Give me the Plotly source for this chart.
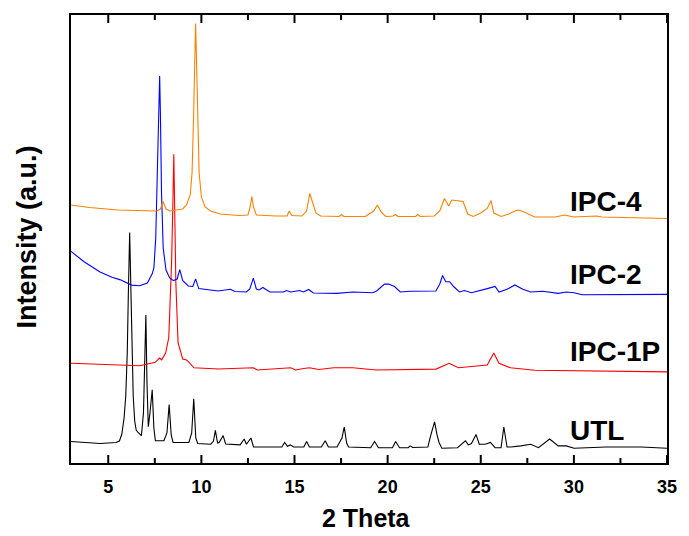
import plotly.graph_objects as go

# ---- data (2-theta, stacked intensity in a.u.) ----
ipc4_theta = [3.0, 4.0, 5.5, 7.0, 7.6, 7.8, 7.95, 8.1, 8.3, 9.0, 9.2, 9.4, 9.5, 9.58, 9.65, 9.69, 9.73, 9.8, 9.88,
              10.0, 10.2, 10.5, 11.0, 12.0, 12.5, 12.62, 12.71, 12.8, 12.95, 14.0, 14.6, 14.72, 14.85, 15.4, 15.65,
              15.82, 15.98, 16.15, 16.4, 17.4, 17.52, 17.65, 18.8, 19.25, 19.45, 19.65, 19.9, 20.3, 20.42, 20.55,
              21.5, 21.62, 21.75, 22.5, 22.8, 23.05, 23.28, 23.45, 23.65, 23.85, 24.05, 24.3, 24.6, 25.0, 25.2,
              25.35, 25.55, 25.7, 26.1, 26.5, 26.95, 27.2, 27.5, 27.9, 29.0, 29.5, 30.0, 31.2, 31.5, 33.0, 35.0]
ipc4_intensity = [258, 255.5, 253, 252, 252, 254, 261.5, 254, 252, 254, 258, 268, 290, 345, 410, 439.5, 410, 345, 290,
                  266, 256, 252, 249, 247.5, 248, 256, 266.5, 256, 248, 247, 247, 252, 247.5, 247, 252,
                  269.5, 260, 250, 247, 246.5, 248.5, 246.5, 246.5, 252, 258, 251, 246.5, 247, 248.5, 246.5,
                  246.5, 248.5, 246.5, 247, 252, 264.5, 257, 263, 262.5, 262, 261.5, 249, 246.5, 250, 253,
                  254.5, 262.5, 250, 246.5, 249, 253, 252, 249.5, 246, 246, 248, 246, 247, 246, 245.5, 244.5]

ipc2_theta = [3.0, 3.7, 4.56, 5.2, 5.62, 5.94, 6.25, 6.68, 7.1, 7.36, 7.45, 7.55, 7.65, 7.72, 7.76, 7.8, 7.86, 7.95,
              8.1, 8.3, 8.5, 8.7, 8.84, 9.0, 9.3, 9.54, 9.69, 9.86, 10.9, 11.56, 11.8, 12.41, 12.6, 12.79, 12.95,
              13.1, 13.3, 13.68, 14.4, 14.57, 14.8, 15.27, 15.48, 15.76, 16.01, 17.28, 18.13, 19.2, 19.41, 19.83,
              20.05, 20.37, 20.68, 21.21, 22.59, 22.8, 22.95, 23.12, 23.33, 23.54, 23.86, 24.12, 24.5, 25.35,
              25.56, 25.77, 25.98, 26.41, 26.83, 27.26, 27.68, 28.32, 29.16, 29.59, 30.01, 30.44, 35.0]
ipc2_intensity = [211.6, 201.3, 191, 185.8, 183.4, 180.6, 177.9, 177.2, 180, 189.2, 195, 225, 290, 360, 387, 350, 270, 215,
                  193, 185, 182.4, 184, 193.4, 182.4, 177, 176.5, 184.1, 174.4, 172, 173.7, 171.5, 171, 174, 184.8, 174,
                  173, 175.5, 171, 171, 172.5, 171, 172.5, 171, 173.5, 170, 169.6, 171, 170.3, 172, 178.9,
                  178.9, 176.5, 171, 171.7, 172, 179, 187.5, 181.3, 181.3, 176.5, 171, 172.5, 170.3, 174.4,
                  175.5, 176.5, 171, 173.7, 178, 173.7, 171, 171.7, 169.6, 171, 170.3, 168.2, 168.6]

ipc1p_theta = [3.0, 4.56, 6.68, 7.53, 7.75, 7.87, 8.08, 8.25, 8.4, 8.47, 8.52, 8.57, 8.63, 8.75, 9.0, 9.2, 9.3, 9.6,
               10.9, 12.79, 13.0, 14.8, 15.05, 15.5, 15.8, 16.3, 17.1, 18.13, 19.4, 22.6, 23.3, 23.8, 24.6, 25.35,
               25.7, 25.98, 26.6, 27.9, 35.0]
ipc1p_intensity = [99.7, 98.7, 97.3, 100.7, 105, 103.2, 110, 125.5, 200, 260, 308.7, 250, 180, 120, 104, 103, 101.4, 95.2,
                   94, 95.2, 93, 95.2, 93, 94.5, 95.2, 93.5, 95.2, 95.2, 93, 93.9, 99.7, 95.2, 96.3, 98,
                   110, 99.7, 95.2, 92.8, 91.1]

utl_theta = [3.0, 4.56, 5.41, 5.6, 5.73, 5.85, 5.94, 6.02, 6.08, 6.15, 6.22, 6.28, 6.34, 6.42, 6.5, 6.6, 6.78, 6.89,
             6.96, 7.02, 7.08, 7.15, 7.24, 7.36, 7.45, 7.53, 7.99, 8.15, 8.27, 8.38, 8.48, 9.33, 9.48, 9.59, 9.7,
             9.8, 10.5, 10.65, 10.75, 10.87, 10.95, 11.17, 11.3, 12.08, 12.3, 12.42, 12.66, 12.8, 14.32, 14.47,
             14.62, 14.78, 14.95, 15.5, 15.65, 15.8, 16.44, 16.65, 16.82, 17.28, 17.55, 17.67, 17.8, 17.9, 19.09,
             19.3, 19.51, 20.26, 20.43, 20.64, 21.1, 21.21, 21.35, 22.16, 22.31, 22.52, 22.65, 22.76, 22.91, 23.75,
             24.18, 24.33, 24.5, 24.75, 24.92, 25.24, 25.52, 25.77, 26.09, 26.24, 26.41, 26.62, 27.15, 27.68, 28.1,
             28.7, 29.16, 29.59, 30.01, 31.18, 31.71, 33.62, 35.0]
utl_intensity = [21.5, 19.5, 20.5, 22, 29, 45, 67, 110, 170, 230.6, 170, 110, 67, 42, 33, 30.5, 27.4, 49.8,
                 110, 148, 80, 36.3, 50, 73.2, 35, 22.2, 22.2, 30, 58.4, 28, 20.5, 20.5, 30, 64.2, 25,
                 19.5, 18.8, 22, 32.6, 20, 20.5, 27.4, 19, 18.1, 24, 18.8, 25, 16, 16, 20.5,
                 16.7, 18.1, 16, 16, 21.5, 16, 16, 22.2, 16, 16, 25, 36, 20, 16, 15.3,
                 21.5, 15.3, 15.3, 21.5, 15.3, 15.3, 17.1, 15.5, 16, 27.4, 41.2, 28.4, 20.5, 14.7, 15.3,
                 22.2, 18.1, 19.5, 28.4, 18.8, 18.8, 20.5, 15.3, 15.3, 36, 16, 16, 17.1, 18.8, 15.3,
                 24, 17.1, 17.1, 14.7, 16, 16, 16, 14.7]

series_names = ["UTL", "IPC-1P", "IPC-2", "IPC-4"]
series_colors = ["#000000", "#FF0000", "#0000FF", "#FF8000"]
series_theta = [utl_theta, ipc1p_theta, ipc2_theta, ipc4_theta]
series_intensity = [utl_intensity, ipc1p_intensity, ipc2_intensity, ipc4_intensity]
label_y = [32.5, 112, 189, 261.5]

x_major_ticks = [5, 10, 15, 20, 25, 30, 35]
x_minor_ticks = [7.5, 12.5, 17.5, 22.5, 27.5, 32.5]
x_tick_text = ["5", "10", "15", "20", "25", "30", "35"]

FONT = "Liberation Sans, Arial, sans-serif"
Y_MAX = 448.0
MAJOR_LEN = 8.0
MINOR_LEN = 5.0

fig = go.Figure()
for name, color, xs, ys in zip(series_names, series_colors, series_theta, series_intensity):
    fig.add_trace(go.Scatter(x=xs, y=ys, mode="lines", name=name,
                             line=dict(color=color, width=1.1), showlegend=False))

# inside tick marks (bottom and top frame), built from the tick arrays
tick_x, tick_y = [], []
for tv_list, tlen in ((x_major_ticks, MAJOR_LEN), (x_minor_ticks, MINOR_LEN)):
    for tv in tv_list:
        tick_x += [tv, tv, None, tv, tv, None]
        tick_y += [0, tlen, None, Y_MAX, Y_MAX - tlen, None]
fig.add_trace(go.Scatter(x=tick_x, y=tick_y, mode="lines", line=dict(color="#000000", width=2),
                         hoverinfo="skip", showlegend=False, cliponaxis=False))

for name, ly in zip(series_names, label_y):
    fig.add_annotation(x=29.68, y=ly, xref="x", yref="y", text=name, showarrow=False,
                       xanchor="left", yanchor="middle",
                       font=dict(family=FONT, size=28, color="#000000", weight="bold"))

fig.add_annotation(x=-0.0746, y=0.5045, xref="paper", yref="paper", text="Intensity (a.u.)",
                   textangle=-90, showarrow=False, xanchor="center", yanchor="middle",
                   font=dict(family=FONT, size=27, color="#000000", weight="bold"))
fig.add_annotation(x=0.4955, y=-0.123, xref="paper", yref="paper", text="2 Theta",
                   showarrow=False, xanchor="center", yanchor="middle",
                   font=dict(family=FONT, size=25, color="#000000", weight="bold"))

fig.update_layout(
    width=689, height=536,
    margin=dict(l=71, r=12, t=15, b=73),
    paper_bgcolor="white", plot_bgcolor="white",
    xaxis=dict(range=[3, 35], tickmode="array", tickvals=x_major_ticks, ticktext=x_tick_text,
               ticks="", ticklabelstandoff=6,
               showline=True, linewidth=2, linecolor="#000000", mirror=True,
               showgrid=False, zeroline=False,
               tickfont=dict(family=FONT, size=18, color="#000000", weight="bold")),
    yaxis=dict(range=[0, Y_MAX], showticklabels=False, ticks="",
               showline=True, linewidth=2, linecolor="#000000", mirror=True,
               showgrid=False, zeroline=False),
)

fig.write_html("out.html", config={"displayModeBar": False},
               post_script="document.body.style.margin='0px';document.body.style.overflow='hidden';")
